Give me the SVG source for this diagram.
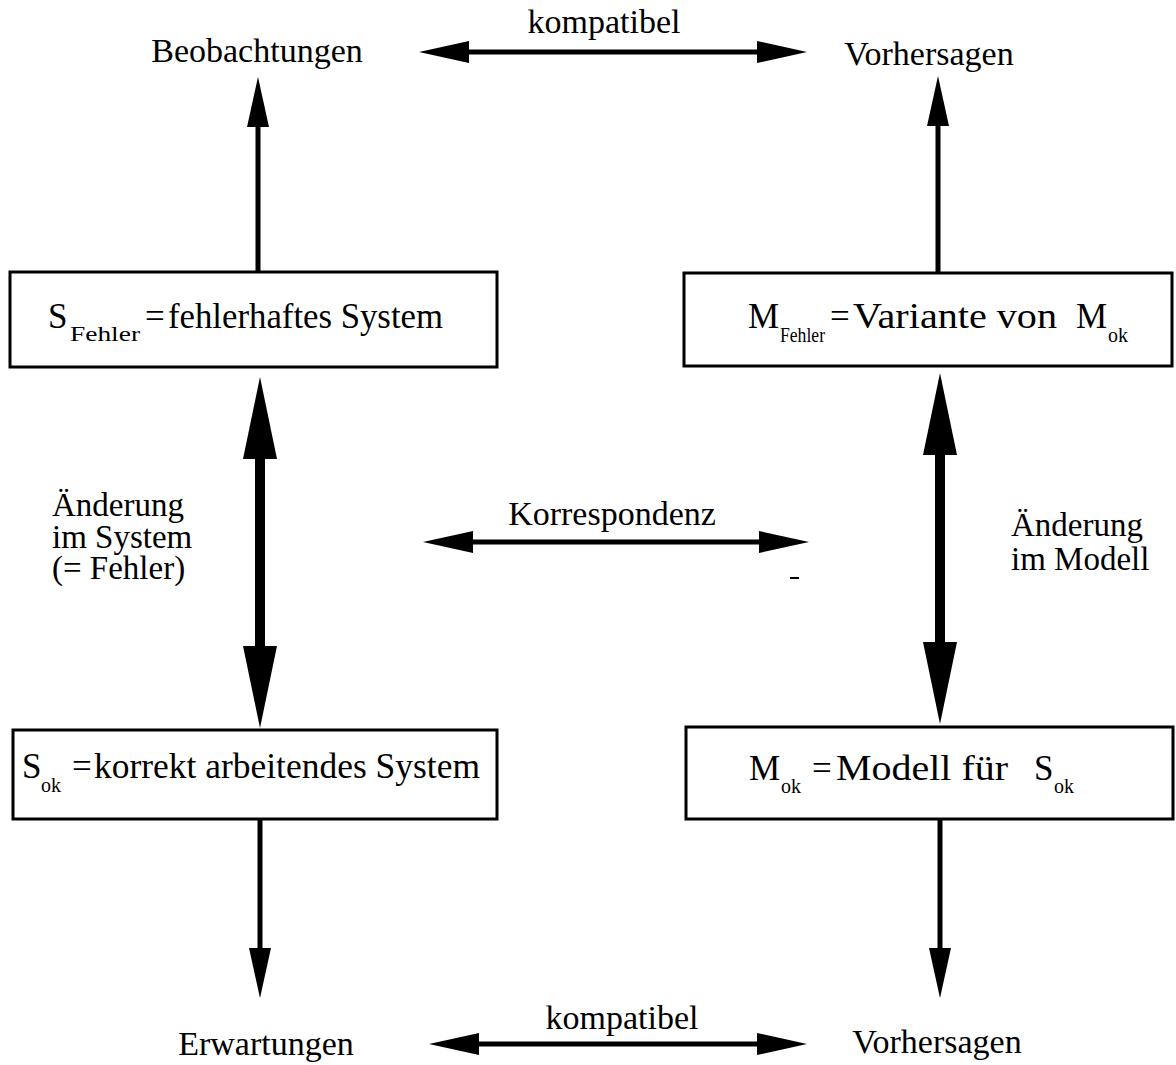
<svg xmlns="http://www.w3.org/2000/svg" width="1176" height="1065" viewBox="0 0 1176 1065">
  <style>
    text { font-family: "Liberation Serif", "Times New Roman", serif; fill: #000; }
    .t { font-size: 34px; }
    .l { font-size: 33px; }
    .b { font-size: 35px; }
    .sub { font-size: 20px; }
    .box { fill: #fff; stroke: #000; stroke-width: 3; }
    .thin { stroke: #000; stroke-width: 5; fill: none; marker-start: url(#head); marker-end: url(#head); }
    .one { stroke: #000; stroke-width: 5; fill: none; marker-end: url(#head); }
    .thick { stroke: #000; stroke-width: 10; fill: none; marker-start: url(#bighead); marker-end: url(#bighead); }
  </style>
  <defs>
    <marker id="head" viewBox="0 -11 50 22" markerWidth="50" markerHeight="22" refX="1" refY="0" markerUnits="userSpaceOnUse" orient="auto-start-reverse">
      <path d="M0,-11 L50,0 L0,11 Z" fill="#000"/>
    </marker>
    <marker id="bighead" viewBox="0 -17 82 34" markerWidth="82" markerHeight="34" refX="1" refY="0" markerUnits="userSpaceOnUse" orient="auto-start-reverse">
      <path d="M0,-17 L82,0 L0,17 Z" fill="#000"/>
    </marker>
  </defs>

  <rect width="1176" height="1065" fill="#fff"/>

  <!-- connectors -->
  <g id="connectors">
    <!-- system side: outputs -->
    <line class="one" x1="258" y1="272" x2="258" y2="126"/>
    <line class="one" x1="260" y1="819" x2="260" y2="949"/>
    <!-- model side: outputs -->
    <line class="one" x1="938" y1="273" x2="938" y2="125"/>
    <line class="one" x1="940" y1="819" x2="940" y2="949"/>
    <!-- changes (fault / model variant) -->
    <line class="thick" x1="260" y1="458" x2="260" y2="647"/>
    <line class="thick" x1="940" y1="454" x2="940" y2="643"/>
    <!-- horizontal relations -->
    <line class="thin" x1="468" y1="52" x2="758" y2="52"/>
    <line class="thin" x1="472" y1="542" x2="760" y2="542"/>
    <line class="thin" x1="478" y1="1044" x2="758" y2="1044"/>
    <rect x="790" y="577" width="9" height="2" fill="#000"/>
  </g>

  <!-- relation labels -->
  <g id="labels">
    <text class="t" x="604" y="33" text-anchor="middle">kompatibel</text>
    <text class="t" x="612" y="525" text-anchor="middle">Korrespondenz</text>
    <text class="t" x="622" y="1029" text-anchor="middle">kompatibel</text>
    <text class="l" x="52" y="516">Änderung</text>
    <text class="l" x="52" y="548">im System</text>
    <text class="l" x="52" y="579">(= Fehler)</text>
    <text class="l" x="1011" y="536">Änderung</text>
    <text class="l" x="1011" y="570">im Modell</text>
  </g>

  <!-- outputs -->
  <g id="beobachtungen"><text class="t" x="257" y="62" text-anchor="middle">Beobachtungen</text></g>
  <g id="vorhersagen-top"><text class="t" x="929" y="65" text-anchor="middle">Vorhersagen</text></g>
  <g id="erwartungen"><text class="t" x="266" y="1055" text-anchor="middle">Erwartungen</text></g>
  <g id="vorhersagen-bottom"><text class="t" x="937" y="1053" text-anchor="middle">Vorhersagen</text></g>

  <!-- faulty system -->
  <g id="s-fehler">
    <rect class="box" x="10" y="272" width="487" height="95"/>
    <text class="b" x="48" y="328">S</text>
    <text class="sub" x="70" y="341" textLength="70" lengthAdjust="spacingAndGlyphs">Fehler</text>
    <text class="b" x="145" y="328">=</text>
    <text class="b" x="168" y="328" textLength="275" lengthAdjust="spacingAndGlyphs">fehlerhaftes System</text>
  </g>

  <!-- faulty model -->
  <g id="m-fehler">
    <rect class="box" x="684" y="273" width="488" height="93"/>
    <text class="b" x="748" y="328">M</text>
    <text class="sub" x="780" y="342" textLength="45" lengthAdjust="spacingAndGlyphs">Fehler</text>
    <text class="b" x="830" y="328">=</text>
    <text class="b" x="853" y="328" textLength="204" lengthAdjust="spacingAndGlyphs">Variante von</text>
    <text class="b" x="1076" y="328">M</text>
    <text class="sub" x="1108" y="342">ok</text>
  </g>

  <!-- correct system -->
  <g id="s-ok">
    <rect class="box" x="13" y="730" width="484" height="89"/>
    <text class="b" x="22" y="778">S</text>
    <text class="sub" x="41" y="792">ok</text>
    <text class="b" x="72" y="778">=</text>
    <text class="b" x="94" y="778" textLength="386" lengthAdjust="spacingAndGlyphs">korrekt arbeitendes System</text>
  </g>

  <!-- correct model -->
  <g id="m-ok">
    <rect class="box" x="686" y="727" width="487" height="92"/>
    <text class="b" x="749" y="780">M</text>
    <text class="sub" x="781" y="793">ok</text>
    <text class="b" x="812" y="780">=</text>
    <text class="b" x="836" y="780" textLength="172" lengthAdjust="spacingAndGlyphs">Modell für</text>
    <text class="b" x="1034" y="780">S</text>
    <text class="sub" x="1054" y="793">ok</text>
  </g>
</svg>
